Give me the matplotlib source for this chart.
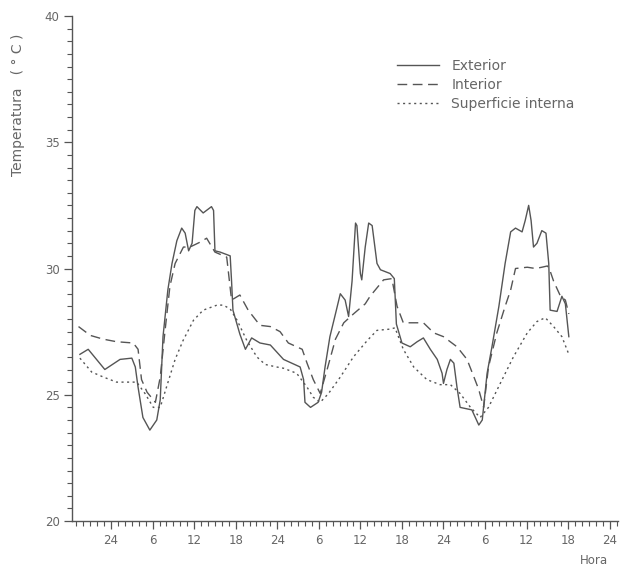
import matplotlib
matplotlib.use("Agg")
import matplotlib.pyplot as plt
from matplotlib.ticker import MultipleLocator, FixedLocator

# hours counted from the first "24" on the axis = 24
ext_t = [19.5, 20.7, 23.1, 25.3, 27.0, 27.5, 27.9, 28.6, 29.6, 30.6, 31.1, 31.5, 32.2, 32.8,
         33.5, 34.2, 34.7, 35.2, 35.7, 36.1, 36.4, 37.3, 38.5, 38.8, 39.0, 39.75, 41.2, 41.4,
         41.6, 42.6, 43.4, 44.3, 45.5, 47.0, 48.9, 51.3, 51.8, 52.0, 52.8, 53.9, 54.4, 54.9,
         55.6, 56.4, 57.1, 57.8, 58.3, 58.8, 59.3, 59.5, 60.0, 60.2, 60.7, 61.2, 61.7, 62.4,
         62.9, 64.3, 64.9, 65.2, 66.0, 67.2, 68.2, 69.1, 70.1, 71.1, 71.8, 72.0, 72.5, 73.0,
         73.5, 73.95, 74.4, 76.1, 77.1, 77.6, 78.3, 79.0, 80.0, 80.9, 81.7, 82.4, 83.35, 83.8,
         84.3, 84.65, 85.0, 85.5, 86.2, 86.8, 87.2, 87.4, 88.4, 89.1, 89.6, 90.1]
ext_T = [26.6, 26.8, 26.0, 26.4, 26.45, 26.1, 25.3, 24.1, 23.6, 24.0, 24.8, 27.3, 29.15, 30.2,
         31.1, 31.6, 31.4, 30.7, 31.0, 32.3, 32.45, 32.2, 32.45, 32.3, 30.7, 30.65, 30.5, 29.5,
         28.35, 27.4, 26.8, 27.25, 27.05, 26.97, 26.4, 26.1, 25.6, 24.7, 24.5, 24.7, 25.1, 26.1,
         27.3, 28.2, 29.0, 28.75, 28.1, 29.5, 31.8, 31.7, 29.8, 29.55, 30.85, 31.8, 31.7, 30.2,
         29.95, 29.8, 29.6, 27.8, 27.05, 26.9, 27.1, 27.25, 26.8, 26.4, 25.85, 25.45, 26.0, 26.4,
         26.25, 25.3, 24.5, 24.4, 23.8, 24.0, 25.85, 26.9, 28.5, 30.2, 31.45, 31.6, 31.45, 31.9,
         32.5, 31.9, 30.85, 31.0, 31.5, 31.4, 30.2, 28.35, 28.3, 28.9, 28.6, 27.3]

int_t = [19.3, 21.0, 22.9, 24.8, 27.2, 27.9, 28.4, 29.2, 30.4, 31.1, 31.8, 32.5, 33.25, 34.45,
         35.4, 36.9, 37.8, 39.0, 40.7, 41.4, 42.6, 43.8, 45.5, 47.0, 48.4, 49.6, 51.6, 52.3,
         53.2, 54.2, 55.2, 56.4, 57.6, 59.0, 60.7, 61.4, 63.35, 64.55, 65.3, 66.2, 67.7, 69.1,
         70.6, 72.0, 73.95, 75.4, 76.4, 77.1, 77.8, 78.5, 79.7, 80.9, 81.7, 82.4, 84.1, 85.3,
         86.2, 87.0, 87.4, 87.9, 88.9, 89.6, 90.1]
int_T = [27.7, 27.35, 27.2, 27.1, 27.05, 26.8, 25.6, 25.1, 24.7, 25.7, 27.55, 29.3, 30.2, 30.85,
         30.85, 31.05, 31.2, 30.65, 30.45, 28.75, 28.95, 28.35, 27.75, 27.7, 27.5, 27.05, 26.8,
         26.25, 25.6, 25.05, 26.0, 27.2, 27.85, 28.2, 28.6, 28.9, 29.55, 29.6, 28.5, 27.85, 27.85,
         27.85, 27.45, 27.3, 26.9, 26.4, 25.7, 25.2, 24.5, 26.1, 27.45, 28.5, 29.15, 30.0, 30.05,
         30.0, 30.05, 30.1, 29.9, 29.5, 28.9, 28.75, 28.2]

sup_t = [19.5, 21.2, 22.9, 24.8, 27.7, 28.9, 30.1, 31.1, 32.0, 33.25, 34.4, 35.9, 37.3, 39.3,
         40.2, 41.2, 42.2, 43.6, 45.05, 46.25, 47.9, 48.9, 50.8, 52.3, 53.2, 54.2, 55.4, 57.1,
         59.0, 61.0, 62.4, 64.3, 65.0, 66.2, 67.7, 69.6, 71.5, 73.0, 74.4, 75.9, 77.3, 78.5,
         80.2, 82.1, 84.1, 85.5, 86.7, 87.9, 89.1, 90.1]
sup_T = [26.45, 25.9, 25.7, 25.5, 25.5, 25.05, 24.5, 24.5, 25.3, 26.4, 27.15, 27.95, 28.35, 28.55,
         28.55, 28.4, 27.95, 27.15, 26.5, 26.2, 26.1, 26.05, 25.85, 25.3, 24.9, 24.7, 25.05, 25.7,
         26.5, 27.15, 27.55, 27.6, 27.65, 26.8, 26.1, 25.6, 25.4, 25.4, 25.05, 24.5, 24.1, 24.5,
         25.45, 26.5, 27.45, 27.9, 28.05, 27.7, 27.3, 26.6]

hour_ticks = [24, 30, 36, 42, 48, 54, 60, 66, 72, 78, 84, 90, 96]
hour_labels = ["24", "6", "12", "18", "24", "6", "12", "18", "24", "6", "12", "18", "24"]

plt.rcParams['font.family'] = ['DejaVu Sans']
ink = '#555555'
txt = '#666666'

fig = plt.figure(figsize=(6.28, 5.67), dpi=100)
ax = fig.add_axes([72/628, 46/567, 546/628, 505/567])

ax.plot(ext_t, ext_T, color=ink, lw=1.0, label='Exterior')
ax.plot(int_t, int_T, color=ink, lw=1.0, dashes=(7, 4), label='Interior')
ax.plot(sup_t, sup_T, color=ink, lw=1.0, dashes=(1.5, 2.5), label='Superficie interna')

ax.set_xlim(18.36, 97.2)
ax.set_ylim(20, 40)

for s in ['top', 'right']:
    ax.spines[s].set_visible(False)
for s in ['left', 'bottom']:
    ax.spines[s].set_color(ink)
    ax.spines[s].set_linewidth(1.0)

ax.xaxis.set_major_locator(FixedLocator(hour_ticks))
ax.set_xticklabels(hour_labels)
ax.xaxis.set_minor_locator(MultipleLocator(1))
ax.yaxis.set_major_locator(MultipleLocator(5))
ax.yaxis.set_minor_locator(MultipleLocator(0.5))
ax.tick_params(which='major', length=6, width=0.9, color=ink, labelcolor=txt, labelsize=8.5)
ax.tick_params(which='minor', length=3.5, width=0.8, color=ink)
ax.tick_params(axis='x', which='major', pad=3)
ax.tick_params(axis='y', which='major', pad=3)

fig.text(18/628, 1 - 105/567, 'Temperatura   ( ° C )', rotation=90, ha='center', va='center',
         fontsize=10, color=txt)
fig.text(594/628, 1 - 561/567, 'Hora', ha='center', va='center', fontsize=8.5, color=txt)

leg = ax.legend(loc='upper left', bbox_to_anchor=(397/628, 1 - 59/567),
                bbox_transform=fig.transFigure, frameon=False, fontsize=10,
                handlelength=3.0, handletextpad=0.9, labelspacing=0.35,
                borderpad=0, borderaxespad=0)
for t in leg.get_texts():
    t.set_color(txt)

fig.savefig('out.png', dpi=100)
